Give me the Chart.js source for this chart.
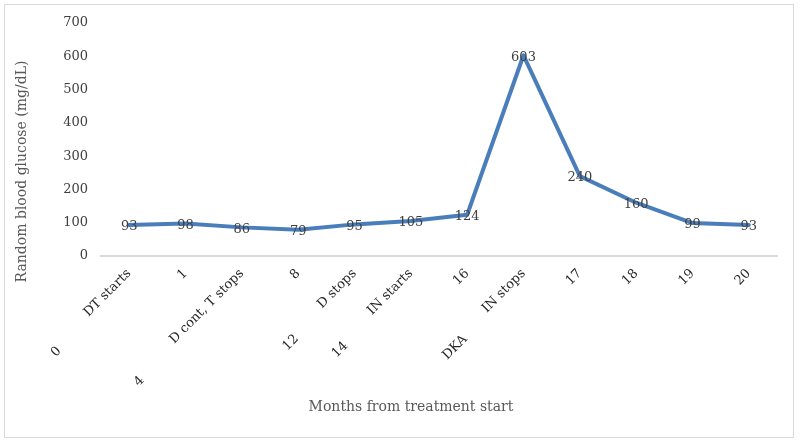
<!DOCTYPE html>
<html>
<head>
<meta charset="utf-8">
<script src="https://cdn.jsdelivr.net/npm/chart.js@4/dist/chart.umd.min.js"></script>
<style>
    body { margin: 0; background: #fff; }
    #wrap { width: 800px; height: 444px; position: relative; }
</style>
</head>
<body>
<div id="wrap"><canvas id="myChart"></canvas></div>
<script>
// time points along the x axis (first line / second line of each label)
const tickLabels = ['DT starts', '1', 'D cont, T stops', '8', 'D stops', 'IN starts', '16', 'IN stops', '17', '18', '19', '20'];
const subLabels = ['0', '', '4', '', '12', '14', '', 'DKA', '', '', '', ''];
// random blood glucose, mg/dL
const glucose = [93, 98, 86, 79, 95, 105, 124, 603, 240, 160, 99, 93];

const xTitle = 'Months from treatment start';
const yTitle = 'Random blood glucose (mg/dL)';

const FONT = 'DejaVu Serif';

// outer frame of the chart
const framePlugin = {
    id: 'frame',
    beforeDraw(chart) {
        const ctx = chart.ctx;
        ctx.save();
        ctx.fillStyle = '#fff';
        ctx.fillRect(0, 0, chart.width, chart.height);
        ctx.strokeStyle = '#d9d9d9';
        ctx.lineWidth = 1;
        ctx.strokeRect(4.5, 4.5, 789, 433);
        ctx.restore();
    }
};

// value labels sitting on top of the line
const valueLabels = {
    id: 'valueLabels',
    afterDatasetsDraw(chart) {
        const ctx = chart.ctx;
        const meta = chart.getDatasetMeta(0);
        ctx.save();
        ctx.font = '13px "' + FONT + '"';
        ctx.fillStyle = '#404040';
        ctx.textAlign = 'center';
        ctx.textBaseline = 'middle';
        meta.data.forEach(function (pt, i) {
            ctx.fillText(glucose[i], pt.x, pt.y + 2);
        });
        ctx.restore();
    }
};

// second line of the x labels, pushed further down like the excel export,
// and the two axis titles (excel centres them on the whole plot block)
const extraText = {
    id: 'extraText',
    afterDraw(chart) {
        const ctx = chart.ctx;
        const xs = chart.scales.x;
        const ys = chart.scales.y;
        const c = Math.SQRT1_2;
        ctx.save();
        ctx.font = '13px "' + FONT + '"';
        ctx.fillStyle = '#262626';
        ctx.textAlign = 'center';
        ctx.textBaseline = 'middle';
        subLabels.forEach(function (txt, i) {
            if (!txt) return;
            const px = xs.getPixelForTick(i);
            const w = ctx.measureText(tickLabels[i]).width;
            const d = 0.6 * w + 43;
            const cx = px + 5 - (w / 2) * c - d * c;
            const cy = xs.top + 18 + (w / 2) * c + d * c;
            ctx.save();
            ctx.translate(cx, cy);
            ctx.rotate(-Math.PI / 4);
            ctx.fillText(txt, 0, 0);
            ctx.restore();
        });

        ctx.font = '14px "' + FONT + '"';
        ctx.fillStyle = '#595959';
        ctx.fillText(xTitle, (xs.left + xs.right) / 2 - 28, xs.bottom - 37);
        ctx.translate(ys.left + 22, (ys.top + ys.bottom) / 2 + 32);
        ctx.rotate(-Math.PI / 2);
        ctx.fillText(yTitle, 0, 0);
        ctx.restore();
    }
};

const myChart = document.getElementById('myChart');
let newChart = new Chart(myChart, {
    type: 'line',
    data: {
        labels: tickLabels,
        datasets: [{
            data: glucose,
            borderColor: '#4A7EBB',
            borderWidth: 4,
            borderJoinStyle: 'round',
            borderCapStyle: 'round',
            pointRadius: 0,
            tension: 0,
            fill: false
        }]
    },
    options: {
        responsive: true,
        maintainAspectRatio: false,
        animation: false,
        layout: { padding: { left: 0, right: 23, top: 23, bottom: 0 } },
        plugins: {
            legend: { display: false },
            tooltip: { enabled: false }
        },
        scales: {
            x: {
                offset: true,
                grid: { display: false, drawTicks: false },
                border: { display: true, color: '#d9d9d9', width: 2 },
                ticks: {
                    autoSkip: false,
                    minRotation: 45,
                    maxRotation: 45,
                    padding: 10,
                    color: '#262626',
                    font: { family: FONT, size: 13 }
                },
                afterFit(scale) { scale.height = 188; }
            },
            y: {
                min: 0,
                max: 700,
                grid: { display: false, drawTicks: false },
                border: { display: false },
                ticks: {
                    stepSize: 100,
                    padding: 13,
                    color: '#404040',
                    font: { family: FONT, size: 13 }
                },
                afterFit(scale) { scale.width = 101; }
            }
        }
    },
    plugins: [framePlugin, valueLabels, extraText]
});
</script>
</body>
</html>
